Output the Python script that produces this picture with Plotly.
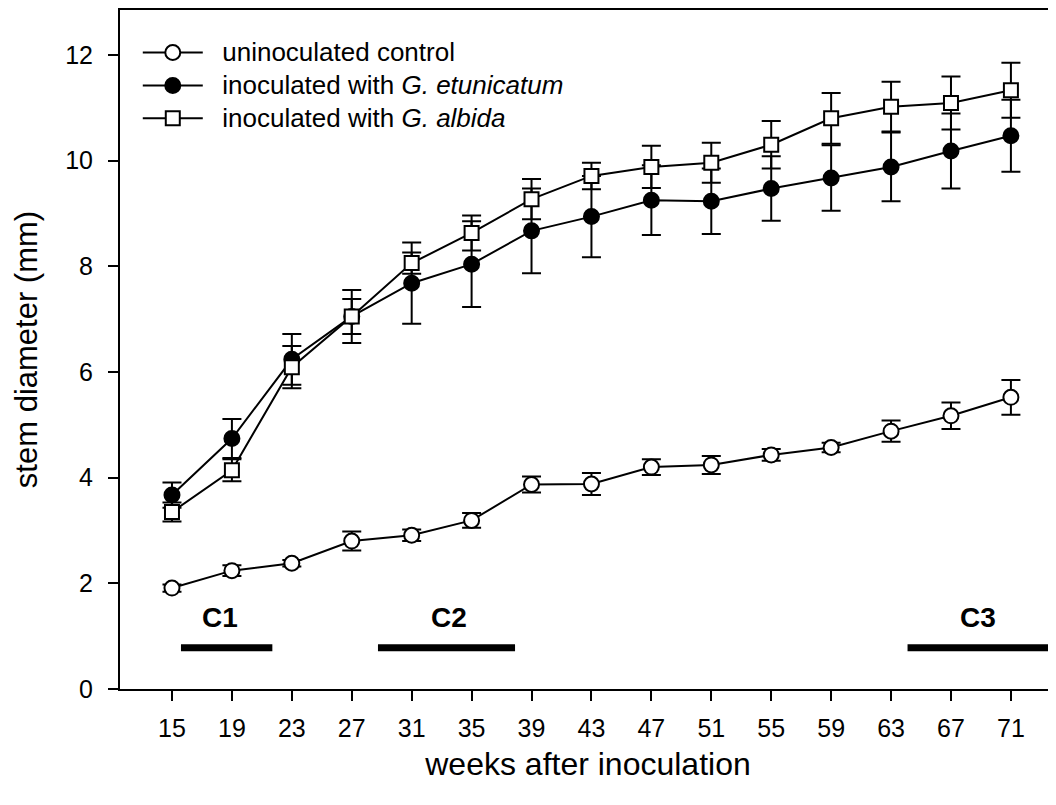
import plotly.graph_objects as go

weeks = [15, 19, 23, 27, 31, 35, 39, 43, 47, 51, 55, 59, 63, 67, 71]
control = [1.91, 2.24, 2.38, 2.80, 2.91, 3.19, 3.87, 3.88, 4.20, 4.24, 4.43, 4.57, 4.88, 5.17, 5.52]
control_err = [0.07, 0.10, 0.06, 0.18, 0.11, 0.14, 0.15, 0.21, 0.15, 0.17, 0.11, 0.09, 0.20, 0.25, 0.33]
etunicatum = [3.67, 4.74, 6.24, 7.05, 7.68, 8.04, 8.67, 8.94, 9.25, 9.23, 9.47, 9.67, 9.88, 10.18, 10.47]
etunicatum_err = [0.24, 0.37, 0.48, 0.33, 0.77, 0.81, 0.80, 0.77, 0.66, 0.62, 0.61, 0.62, 0.65, 0.71, 0.68]
albida = [3.35, 4.14, 6.09, 7.05, 8.06, 8.63, 9.27, 9.71, 9.88, 9.96, 10.30, 10.80, 11.02, 11.09, 11.33]
albida_err = [0.18, 0.21, 0.40, 0.50, 0.20, 0.33, 0.38, 0.25, 0.40, 0.38, 0.45, 0.48, 0.47, 0.50, 0.52]

series_names = ["uninoculated control",
                "inoculated with <i>G. etunicatum</i>",
                "inoculated with <i>G. albida</i>"]

period_labels = ["C1", "C2", "C3"]
period_start = [15.6, 28.75, 64.1]
period_end = [21.7, 37.9, 76.0]
period_label_x = [18.2, 33.5, 68.8]
period_bar_y = 0.78
period_label_y = 1.36

yticks = [0, 2, 4, 6, 8, 10, 12]

FONT = "Arial, Liberation Sans, Helvetica, sans-serif"
BLACK = "#000000"

fig = go.Figure()

styles = [
    (control, control_err, "circle", "#ffffff", 15),
    (etunicatum, etunicatum_err, "circle", BLACK, 15),
    (albida, albida_err, "square", "#ffffff", 14),
]
for name, (vals, errs, sym, fill, size) in zip(series_names, styles):
    fig.add_trace(go.Scatter(
        x=weeks, y=vals,
        name='<span style="font-size:26px">&nbsp;&nbsp;' + name + '</span>',
        mode="lines+markers",
        line=dict(color=BLACK, width=2),
        marker=dict(symbol=sym, size=size, color=fill,
                    line=dict(color=BLACK, width=2)),
        error_y=dict(type="data", array=errs, visible=True,
                     color=BLACK, thickness=2, width=9.5),
        cliponaxis=False,
    ))

for lab, s, e in zip(period_labels, period_start, period_end):
    fig.add_trace(go.Scatter(
        x=[s, e], y=[period_bar_y, period_bar_y], mode="lines",
        line=dict(color=BLACK, width=7), showlegend=False,
        hoverinfo="skip", name=lab,
    ))

for lab, lx in zip(period_labels, period_label_x):
    fig.add_annotation(x=lx, y=period_label_y, text=f"<b>{lab}</b>",
                       showarrow=False, xref="x", yref="y",
                       font=dict(family=FONT, size=28, color=BLACK))

fig.update_layout(
    width=1048, height=789,
    margin=dict(l=112, r=0, t=2, b=108),
    paper_bgcolor="white", plot_bgcolor="white",
    font=dict(family=FONT, color=BLACK),
    showlegend=True,
    legend=dict(x=0.019, y=0.969, xanchor="left", yanchor="top",
                bgcolor="rgba(0,0,0,0)", borderwidth=0,
                font=dict(family=FONT, size=23, color=BLACK),
                itemwidth=60, tracegroupgap=0),
)

fig.update_xaxes(
    range=[11.53, 74.01], tickmode="array", tickvals=weeks,
    ticks="outside", ticklen=10, tickwidth=2, tickcolor=BLACK,
    showline=True, linecolor=BLACK, linewidth=2, mirror=True,
    showgrid=False, zeroline=False,
    tickfont=dict(family=FONT, size=25, color=BLACK),
    ticklabelstandoff=6,
    title=dict(text="weeks after inoculation",
               font=dict(family=FONT, size=32, color=BLACK), standoff=12),
)
fig.update_yaxes(
    range=[0, 12.85], tickmode="array", tickvals=yticks,
    ticks="outside", ticklen=10, tickwidth=2, tickcolor=BLACK,
    showline=True, linecolor=BLACK, linewidth=2, mirror=False,
    showgrid=False, zeroline=False,
    tickfont=dict(family=FONT, size=25, color=BLACK),
    ticklabelstandoff=10,
    title=dict(text="stem diameter (mm)",
               font=dict(family=FONT, size=31, color=BLACK), standoff=18),
)

fig.write_html("out.html")
